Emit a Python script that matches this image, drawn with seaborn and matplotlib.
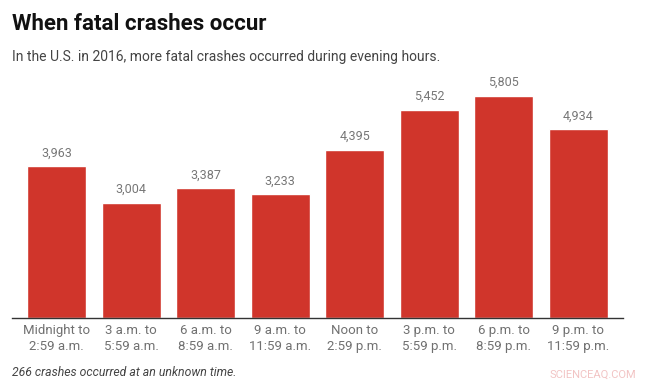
import matplotlib
matplotlib.use("Agg")
from matplotlib import pyplot as plt
import pandas as pd
import seaborn as sns

# data
time_slots = ["Midnight to\n2:59 a.m.", "3 a.m. to\n5:59 a.m.", "6 a.m. to\n8:59 a.m.",
              "9 a.m. to\n11:59 a.m.", "Noon to\n2:59 p.m.", "3 p.m. to\n5:59 p.m.",
              "6 p.m. to\n8:59 p.m.", "9 p.m. to\n11:59 p.m."]
crashes = [3963, 3004, 3387, 3233, 4395, 5452, 5805, 4934]

df = pd.DataFrame({"slot": time_slots, "crashes": crashes})

sns.set_theme(style="white")
plt.rcParams['font.family'] = ['Roboto', 'DejaVu Sans']

fig = plt.figure(figsize=(6.5, 3.84), dpi=100)
ax = fig.add_axes([12 / 650, 66 / 384, 611 / 650, 238 / 384])

sns.barplot(data=df, x="slot", y="crashes", color="#d0352b", saturation=1,
            width=0.79, ax=ax)

for i, v in enumerate(crashes):
    ax.annotate(f"{v:,}", (i, v), xytext=(0, 5), textcoords="offset points",
                ha="center", va="bottom", fontsize=9, color="#777777")

ax.set_xlim(-0.6, 7.6)
ax.set_ylim(0, 6224)
ax.set_yticks([])
ax.set_xlabel("")
ax.set_ylabel("")
for side in ["top", "right", "left"]:
    ax.spines[side].set_visible(False)
ax.spines["bottom"].set_color("#333333")
ax.spines["bottom"].set_linewidth(1)
ax.tick_params(axis="x", length=0, pad=4, labelsize=9.5, labelcolor="#707070")
for lab in ax.get_xticklabels():
    lab.set_linespacing(1.3)

fig.text(12 / 650, 1 - 24 / 384, "When fatal crashes occur", fontsize=16,
         fontweight="bold", color="#111111", va="center", ha="left")
fig.text(12 / 650, 1 - 57 / 384,
         "In the U.S. in 2016, more fatal crashes occurred during evening hours.",
         fontsize=10, color="#444444", va="center", ha="left")
fig.text(12 / 650, 1 - 372 / 384, "266 crashes occurred at an unknown time.",
         fontsize=8.8, style="italic", color="#444444", va="center", ha="left")
fig.text(636 / 650, 1 - 375 / 384, "SCIENCEAQ.COM", fontsize=8,
         color="#f2c4c4", va="center", ha="right")

fig.savefig("out.png", dpi=100)
